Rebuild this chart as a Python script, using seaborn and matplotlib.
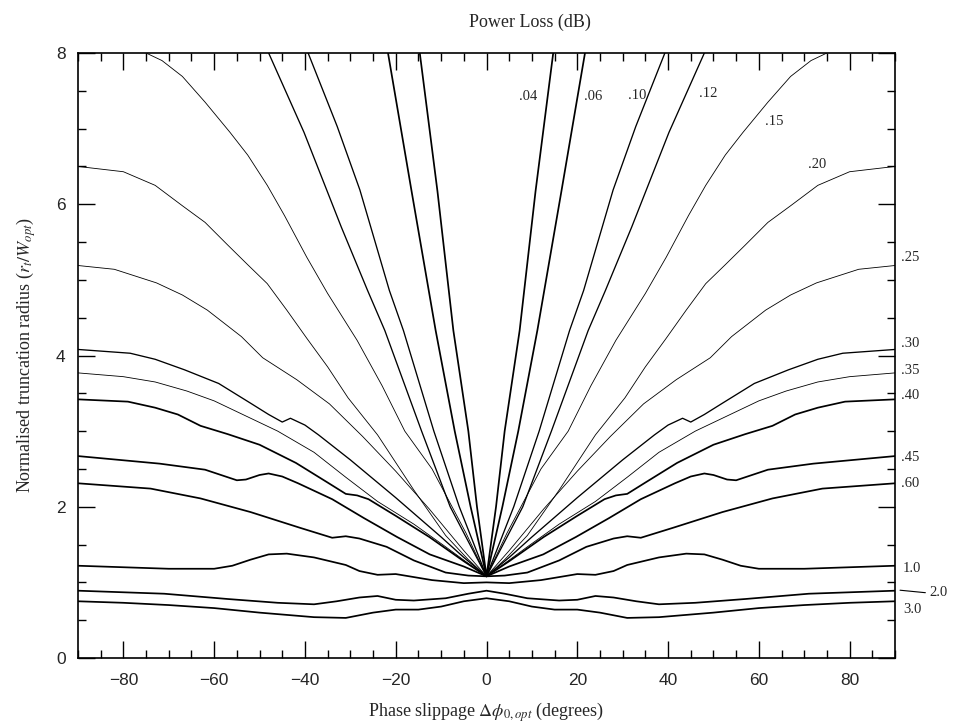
import numpy as np
import pandas as pd
import matplotlib
matplotlib.use("Agg")
import matplotlib.pyplot as plt
from matplotlib.ticker import MultipleLocator
import seaborn as sns

# ---------------- data (right half, phase >= 0; the chart is mirror symmetric) ----------------
levels = [".04", ".06", ".10", ".12", ".15", ".20", ".25", ".30",
          ".35", ".40", ".45", ".60", "1.0", "2.0", "3.0"]

x_04 = [0, 2.1, 4.0, 7.3, 10.8, 14.7]
y_04 = [1.08, 2.0, 3.0, 4.33, 6.17, 8.0]

x_06 = [0, 3.5, 7.0, 11.2, 16.5, 21.7]
y_06 = [1.08, 2.0, 3.0, 4.33, 6.17, 8.0]

x_10 = [0, 6.0, 11.6, 18.3, 21.4, 27.9, 32.9, 39.3]
y_10 = [1.08, 2.0, 3.0, 4.33, 4.86, 6.19, 7.03, 8.0]

x_12 = [0, 8.0, 14.3, 22.4, 26.2, 32.0, 40.2, 48.0]
y_12 = [1.08, 2.0, 3.0, 4.33, 4.86, 5.7, 6.95, 8.0]

x_15 = [0, 4.5, 12.0, 18.0, 23.0, 28.5, 35.0, 39.6, 44.5, 48.3, 52.6, 56.5, 62.0, 67.0, 71.5, 75.0]
y_15 = [1.08, 1.65, 2.50, 3.0, 3.6, 4.2, 4.82, 5.3, 5.85, 6.25, 6.65, 6.95, 7.35, 7.69, 7.9, 8.0]

x_20 = [0, 4, 9, 16, 24, 30.5, 35, 39.5, 44, 48.3, 52.6, 57, 62, 67, 73, 80, 90]
y_20 = [1.08, 1.3, 1.62, 2.22, 2.95, 3.44, 3.85, 4.22, 4.6, 4.95, 5.2, 5.46, 5.76, 5.98, 6.25, 6.43, 6.5]

x_25 = [0, 5, 12.6, 20, 27.3, 34.6, 41.8, 49.3, 54, 61.5, 67, 72.7, 82, 90]
y_25 = [1.08, 1.42, 1.97, 2.47, 2.93, 3.36, 3.68, 3.97, 4.25, 4.6, 4.8, 4.96, 5.14, 5.19]

x_30 = [0, 5, 10, 20, 30, 37, 40, 43.2, 45, 48, 52, 59, 66.5, 73, 78.5, 90]
y_30 = [1.08, 1.33, 1.6, 2.12, 2.62, 2.95, 3.08, 3.17, 3.12, 3.22, 3.37, 3.63, 3.81, 3.95, 4.03, 4.08]

x_35 = [0, 4, 9, 16, 24, 31, 38, 46, 53, 60, 66, 73, 80, 90]
y_35 = [1.08, 1.25, 1.47, 1.77, 2.07, 2.39, 2.72, 3.0, 3.2, 3.40, 3.53, 3.65, 3.72, 3.77]

x_40 = [0, 5, 12.6, 20, 26, 28.5, 31, 35, 42, 50, 57, 63, 68, 73, 79, 90]
y_40 = [1.08, 1.28, 1.60, 1.88, 2.10, 2.15, 2.17, 2.32, 2.58, 2.82, 2.96, 3.07, 3.22, 3.31, 3.39, 3.42]

x_45 = [0, 5, 12.5, 19.7, 27, 34, 41.5, 45, 48, 50, 53, 55, 62, 72, 90]
y_45 = [1.08, 1.21, 1.37, 1.60, 1.85, 2.10, 2.31, 2.40, 2.44, 2.42, 2.36, 2.35, 2.49, 2.57, 2.67]

x_60 = [0, 4, 9, 16, 22, 28, 31, 34, 41, 52, 63, 74, 90]
y_60 = [1.08, 1.09, 1.13, 1.29, 1.47, 1.58, 1.61, 1.59, 1.72, 1.93, 2.11, 2.24, 2.31]

x_1 = [0, 5, 12, 16, 20, 24, 28, 31, 38, 44, 48, 52, 56, 60, 70, 80, 90]
y_1 = [1.0, 0.99, 1.03, 1.07, 1.11, 1.10, 1.15, 1.23, 1.33, 1.38, 1.37, 1.30, 1.22, 1.18, 1.18, 1.20, 1.22]

x_2 = [0, 4, 9, 16, 20, 24, 28, 33, 38, 46, 57, 71, 90]
y_2 = [0.89, 0.85, 0.79, 0.76, 0.77, 0.82, 0.80, 0.75, 0.71, 0.73, 0.78, 0.85, 0.89]

x_3 = [0, 5, 10, 15, 20, 25, 31, 38, 50, 60, 70, 80, 90]
y_3 = [0.79, 0.75, 0.68, 0.64, 0.64, 0.60, 0.53, 0.54, 0.60, 0.66, 0.70, 0.73, 0.75]

weights = ["thick", "thick", "medium", "medium", "thin", "thin", "thin", "medium",
           "thin", "thick", "thick", "thick", "thick", "thick", "thick"]

# contour label positions (data coordinates)
label_x = [9.1, 23.4, 33.3, 48.9, 63.3, 72.9, 91.3, 91.3, 91.3, 91.3, 91.3, 91.3, 91.8, 97.6, 91.8]
label_y = [7.42, 7.43, 7.44, 7.46, 7.10, 6.52, 5.29, 4.16, 3.80, 3.47, 2.65, 2.31, 1.19, 0.86, 0.64]
label_ha = ["center"] * 6 + ["left"] * 9

xticks = [-80, -60, -40, -20, 0, 20, 40, 60, 80]
yticks = [0, 2, 4, 6, 8]

# ---------------- build long table ----------------
series_x = [x_04, x_06, x_10, x_12, x_15, x_20, x_25, x_30, x_35, x_40, x_45, x_60, x_1, x_2, x_3]
series_y = [y_04, y_06, y_10, y_12, y_15, y_20, y_25, y_30, y_35, y_40, y_45, y_60, y_1, y_2, y_3]

frames = []
for lev, xs, ys, w in zip(levels, series_x, series_y, weights):
    xs = np.asarray(xs, float)
    ys = np.asarray(ys, float)
    fx = np.concatenate([-xs[::-1], xs[1:]])
    fy = np.concatenate([ys[::-1], ys[1:]])
    frames.append(pd.DataFrame({"level": lev, "x": fx, "y": fy, "weight": w}))
df = pd.concat(frames, ignore_index=True)

# ---------------- plot ----------------
sns.set_style("ticks")
plt.rcParams["font.family"] = ["Liberation Sans", "DejaVu Sans"]
plt.rcParams["mathtext.fontset"] = "stix"

fig = plt.figure(figsize=(9.71, 7.27), dpi=100)
ax = fig.add_axes([78 / 971, 1 - 658 / 727, (895 - 78) / 971, (658 - 53) / 727])

sns.lineplot(data=df, x="x", y="y", units="level", estimator=None, sort=False,
             size="weight", sizes={"thick": 1.25, "medium": 0.95, "thin": 0.6},
             color="black", legend=False, ax=ax)

ax.set_xlim(-90, 90)
ax.set_ylim(0, 8)
ax.set_xticks(xticks)
ax.set_yticks(yticks)
ax.xaxis.set_minor_locator(MultipleLocator(5))
ax.yaxis.set_minor_locator(MultipleLocator(0.5))
ax.tick_params(which="major", direction="in", top=True, right=True,
               length=12, width=1.0, labelsize=12.5, color="black")
ax.tick_params(which="minor", direction="in", top=True, right=True,
               length=6, width=1.0, color="black")
ax.tick_params(axis="x", which="major", pad=11)
ax.tick_params(axis="y", which="major", pad=9)
for s in ax.spines.values():
    s.set_linewidth(1.2)
    s.set_color("black")

serif = ["Liberation Serif", "DejaVu Serif"]
ax.set_xlabel(r"Phase slippage $\Delta\phi_{0,opt}$ (degrees)", family=serif,
              fontsize=13, labelpad=9)
ax.set_ylabel(r"Normalised truncation radius ($r_t/W_{opt}$)", family=serif,
              fontsize=13, labelpad=13)
fig.text(530 / 971, 1 - 22 / 727, "Power Loss (dB)", family=serif, fontsize=13,
         ha="center", va="center")

for lev, lx, ly, ha in zip(levels, label_x, label_y, label_ha):
    ax.text(lx, ly, lev, family=serif, fontsize=10.5, ha=ha, va="center",
            clip_on=False)

ax.annotate("", xy=(90.5, 0.90), xytext=(97.3, 0.86), annotation_clip=False,
            arrowprops=dict(arrowstyle="-", color="black", lw=0.8))

sns.despine(ax=ax, top=False, right=False)
fig.savefig("out.png", dpi=100)
